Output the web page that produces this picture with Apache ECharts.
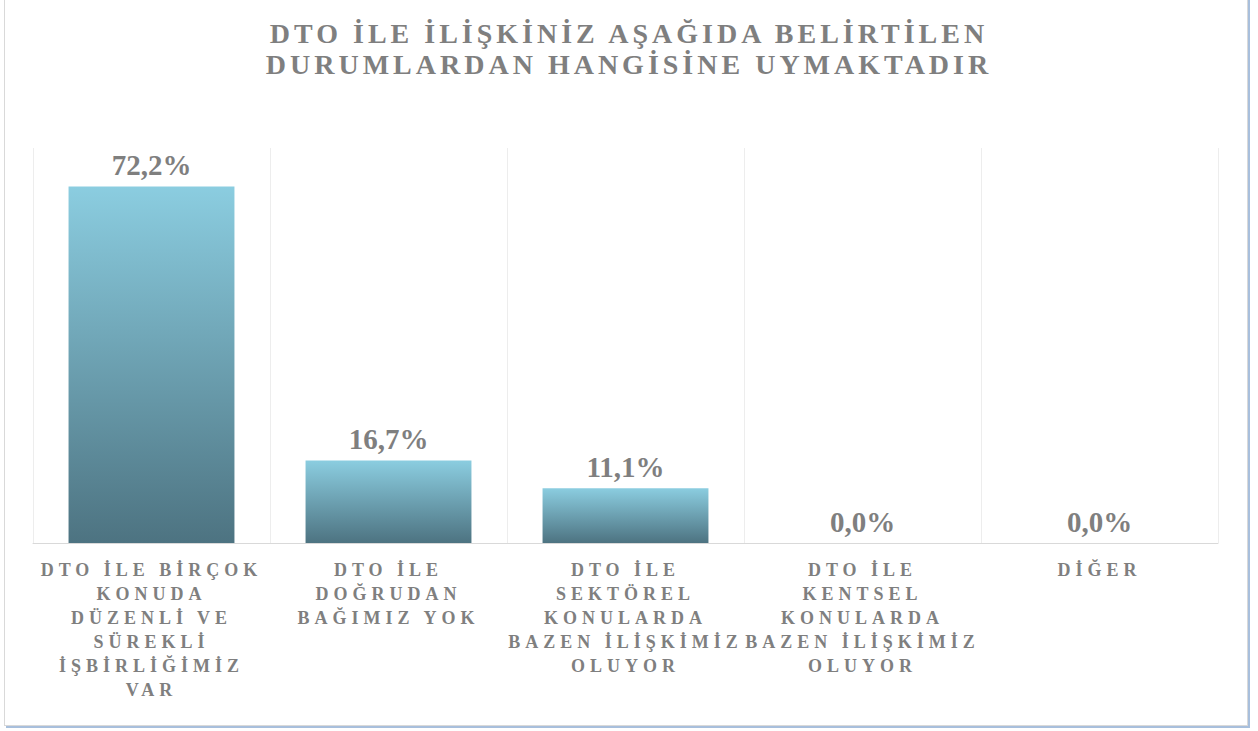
<!DOCTYPE html>
<html>
<head>
<meta charset="utf-8">
<script src="https://cdn.jsdelivr.net/npm/echarts@6/dist/echarts.min.js"></script>
<style>
    html, body { margin: 0; padding: 0; background: #fff; }
    #chart { position: absolute; left: 0; top: 0; width: 1258px; height: 731px; }
    /* çerçeve */
    #frame {
        position: absolute; left: 4px; top: -2px; width: 1242px; height: 727px;
        border-left: 1px solid #d9d9d9; border-right: 1px solid #d9d9d9; border-bottom: 1px solid #d9d9d9;
        box-shadow: 2px 2px 0 #a8bfdc; pointer-events: none;
    }
    /* harf aralığı (svg text) */
    #chart text[style*="28px"] { letter-spacing: 4px; }
    #chart text[style*="18px"] { letter-spacing: 5px; }
    #chart text[style*="29px"] { letter-spacing: 0px; }
</style>
</head>
<body>
<div id="chart"></div>
<div id="frame"></div>
<script>
// veriler
var titleText = 'DTO İLE İLİŞKİNİZ AŞAĞIDA BELİRTİLEN\nDURUMLARDAN HANGİSİNE UYMAKTADIR';
var categories = [
    'DTO İLE BİRÇOK\nKONUDA\nDÜZENLİ VE\nSÜREKLİ\nİŞBİRLİĞİMİZ\nVAR',
    'DTO İLE\nDOĞRUDAN\nBAĞIMIZ YOK',
    'DTO İLE\nSEKTÖREL\nKONULARDA\nBAZEN İLİŞKİMİZ\nOLUYOR',
    'DTO İLE\nKENTSEL\nKONULARDA\nBAZEN İLİŞKİMİZ\nOLUYOR',
    'DİĞER'
];
var percentages = [72.2, 16.7, 11.1, 0.0, 0.0];

var fontSerif = '"Liberation Serif", "Times New Roman", serif';
var grayText = '#7f7f7f';

var myChart = echarts.init(document.getElementById('chart'), null, { renderer: 'svg' });

var option = {
    animation: false,
    backgroundColor: '#fff',
    title: {
        text: titleText,
        left: 'center',
        top: 13,
        textStyle: {
            fontFamily: fontSerif,
            fontWeight: 'bold',
            fontSize: 28,
            lineHeight: 31,
            color: grayText
        }
    },
    grid: {
        left: 33,
        right: 40,
        top: 148,
        bottom: 188
    },
    xAxis: {
        type: 'category',
        data: categories,
        axisLine: {
            lineStyle: { color: '#d9d9d9', width: 1 }
        },
        axisTick: { show: false },
        splitLine: {
            show: true,
            interval: 0,
            lineStyle: { color: '#ededed', width: 1 }
        },
        axisLabel: {
            interval: 0,
            margin: 15,
            fontFamily: fontSerif,
            fontWeight: 'bold',
            fontSize: 18,
            lineHeight: 24,
            color: grayText,
            align: 'center'
        }
    },
    yAxis: {
        type: 'value',
        min: 0,
        max: 80,
        show: false,
        splitLine: { show: false }
    },
    series: [{
        type: 'bar',
        data: percentages,
        barWidth: '70%',
        itemStyle: {
            color: new echarts.graphic.LinearGradient(0, 0, 0, 1, [
                { offset: 0, color: '#8bcde0' },
                { offset: 1, color: '#4d7381' }
            ])
        },
        label: {
            show: true,
            position: 'top',
            distance: 7,
            fontFamily: fontSerif,
            fontWeight: 'bold',
            fontSize: 29,
            color: grayText,
            formatter: function (p) {
                return p.value.toFixed(1).replace('.', ',') + '%';
            }
        }
    }]
};

myChart.setOption(option);
</script>
</body>
</html>
